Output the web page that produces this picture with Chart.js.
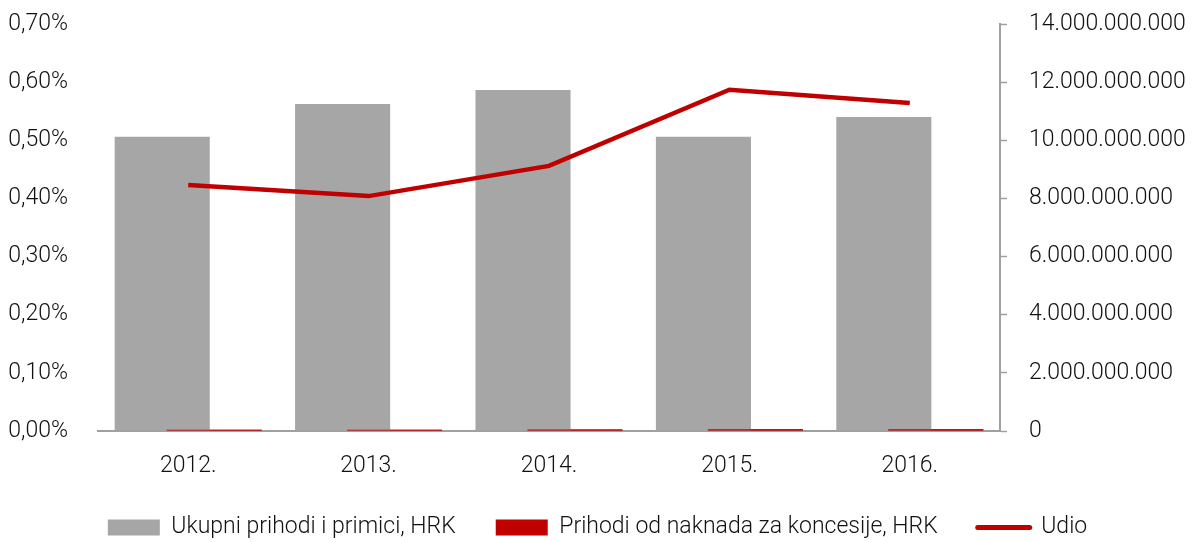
<!DOCTYPE html>
<html>
<head>
<meta charset="utf-8">
<script src="https://cdn.jsdelivr.net/npm/chart.js@4.4.1/dist/chart.umd.min.js"></script>
<style>
  html, body { margin: 0; padding: 0; background: #ffffff; }
  #wrap { width: 1195px; height: 542px; }
</style>
</head>
<body>
<div id="wrap"><canvas id="chart"></canvas></div>
<script>
  const years = ["2012.", "2013.", "2014.", "2015.", "2016."];
  const ukupniPrihodi = [10120000000, 11250000000, 11730000000, 10120000000, 10800000000];
  const naknadeKoncesije = [42800000, 45500000, 53500000, 59400000, 60900000];
  const udio = [0.423, 0.404, 0.456, 0.587, 0.564];
  const leftTicksMax = 0.7;
  const rightTicksMax = 14000000000;

  const GRAY = "#a6a6a6";
  const RED = "#c00000";
  const AXIS = "#a0a0a0";
  const TEXT = "#111111";
  const TICK_FONT = { family: "Roboto", size: 23, weight: "300", lineHeight: 0.8 };
  const LEGEND_FONT = { family: "Roboto", size: 23, weight: "300" };

  function formatPercent(value) {
    return value.toFixed(2).replace(".", ",") + "%";
  }

  function formatThousands(value) {
    return String(Math.round(value)).replace(/\B(?=(\d{3})+(?!\d))/g, ".");
  }

  // y axes add tick padding above the top label; drop it so layout.padding rules
  function trimVerticalPadding(scale) {
    scale.paddingTop = 0;
    scale.paddingBottom = 0;
  }

  // red bars sit in the right slot but are painted over the gray ones
  const redOnTop = {
    id: "redOnTop",
    afterDatasetsDraw: function (chart) {
      const meta = chart.getDatasetMeta(1);
      if (meta && meta.controller) {
        meta.controller.draw();
      }
    },
  };

  Chart.defaults.font.family = "Roboto";
  Chart.defaults.color = TEXT;

  new Chart(document.getElementById("chart"), {
    type: "bar",
    data: {
      labels: years,
      datasets: [
        {
          label: "Ukupni prihodi i primici, HRK",
          data: ukupniPrihodi,
          backgroundColor: GRAY,
          yAxisID: "y1",
          categoryPercentage: 0.576,
          barPercentage: 1.83,
          order: 1,
        },
        {
          label: "Prihodi od naknada za koncesije, HRK",
          data: naknadeKoncesije,
          backgroundColor: RED,
          yAxisID: "y1",
          categoryPercentage: 0.576,
          barPercentage: 1.83,
          order: 2,
        },
        {
          type: "line",
          label: "Udio",
          data: udio,
          borderColor: RED,
          backgroundColor: RED,
          borderWidth: 4.5,
          pointRadius: 0,
          tension: 0,
          yAxisID: "y",
          order: 0,
        },
      ],
    },
    options: {
      responsive: true,
      maintainAspectRatio: false,
      animation: false,
      layout: { padding: { top: 24, bottom: -7 } },
      scales: {
        x: {
          grid: { display: false, drawTicks: false },
          border: { display: true, color: AXIS, width: 2 },
          ticks: { font: TICK_FONT, color: TEXT, padding: 26 },
          afterFit: function (scale) {
            scale.height = 45;
          },
        },
        y: {
          position: "left",
          min: 0,
          max: leftTicksMax,
          grid: { display: false },
          border: { display: false },
          ticks: {
            stepSize: 0.1,
            font: TICK_FONT,
            color: TEXT,
            padding: 22,
            callback: function (value) {
              return formatPercent(value);
            },
          },
          afterFit: function (scale) {
            scale.width = 98;
            trimVerticalPadding(scale);
          },
        },
        y1: {
          position: "right",
          min: 0,
          max: rightTicksMax,
          grid: {
            display: true,
            drawOnChartArea: false,
            drawTicks: true,
            tickLength: 7,
            tickColor: AXIS,
            tickWidth: 1.5,
          },
          border: { display: true, color: AXIS, width: 2 },
          ticks: {
            stepSize: 2000000000,
            font: TICK_FONT,
            color: TEXT,
            padding: 22,
            callback: function (value) {
              return formatThousands(value);
            },
          },
          afterFit: function (scale) {
            scale.width = 195;
            trimVerticalPadding(scale);
          },
        },
      },
      plugins: {
        tooltip: { enabled: false },
        legend: {
          position: "bottom",
          labels: {
            usePointStyle: true,
            pointStyleWidth: 52,
            boxHeight: 16,
            padding: 40,
            font: LEGEND_FONT,
            color: TEXT,
            generateLabels: function (chart) {
              return chart.data.datasets.map(function (ds, i) {
                const isLine = ds.type === "line";
                return {
                  text: ds.label,
                  datasetIndex: i,
                  fillStyle: ds.backgroundColor,
                  strokeStyle: isLine ? ds.borderColor : ds.backgroundColor,
                  lineWidth: isLine ? 5 : 0,
                  lineCap: "round",
                  pointStyle: isLine ? "line" : "rect",
                  fontColor: TEXT,
                  hidden: false,
                };
              });
            },
          },
        },
      },
    },
    plugins: [redOnTop],
  });
</script>
</body>
</html>
